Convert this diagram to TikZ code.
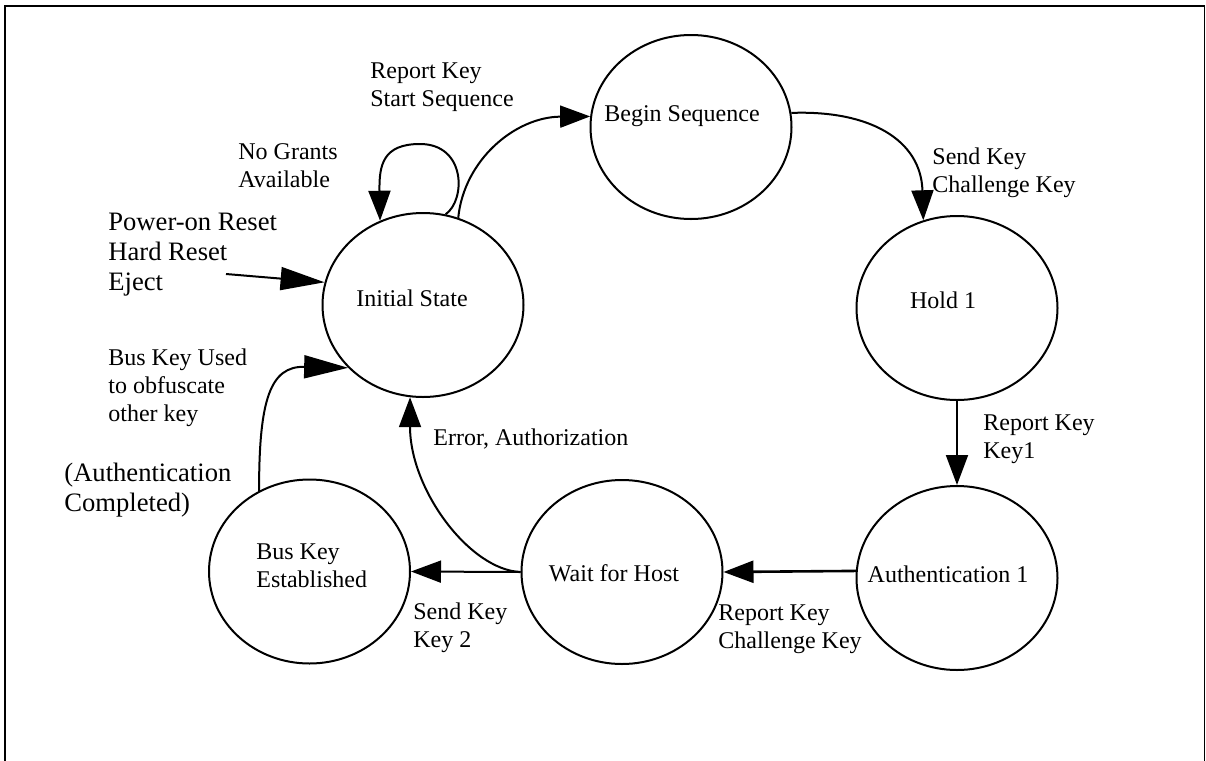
\documentclass[tikz,border=0pt]{standalone}
\usepackage{fontspec}
\setmainfont{Liberation Serif}
\usetikzlibrary{shapes.geometric,arrows.meta}
\tikzset{
  state/.style={ellipse, draw, line width=1pt, inner sep=0pt, minimum width=100.5pt, minimum height=92pt},
  lbl/.style={anchor=base west, align=left, inner sep=0pt, font=\fontsize{12}{14}\selectfont},
  biglbl/.style={anchor=base west, align=left, inner sep=0pt, font=\fontsize{13.3}{15}\selectfont},
  stxt/.style={inner sep=0pt, font=\fontsize{12}{14}\selectfont},
  arr/.style={-{Triangle[length=15pt,width=11pt]}, line width=1pt},
  arrbig/.style={-{Triangle[length=22pt,width=11.5pt]}, line width=1pt},
  frame/.style={line width=0.85pt}
}
\begin{document}
\begin{tikzpicture}[x=0.5pt,y=-0.5pt]
\useasboundingbox (0,0) rectangle (1206,761);
\draw[frame] (5,761) -- (5,6) -- (1204.5,6) -- (1204.5,761);

% states
\node[state] (init)  at (423,305) {};
\node[state] (begin) at (691,127) {};
\node[state] (hold)  at (957,308) {};
\node[state] (auth)  at (957,578) {};
\node[state] (wait)  at (622,572) {};
\node[state] (bus)   at (309.5,571.5) {};

\node[stxt] (initT)  at (412,298) {Initial State};
\node[stxt] (beginT) at (682,116) {Begin Sequence};
\node[stxt] (holdT)  at (943,300) {Hold 1};
\node[stxt] (authT)  at (948,574) {Authentication 1};
\node[stxt] (waitT)  at (614,573) {Wait for Host};
\node[lbl]  (busT)   at (256,587) {Bus Key\\Established};

% labels (anchor = baseline of last line)
\node[lbl] (l1) at (370,106) {Report Key\\Start Sequence};
\node[lbl] (l2) at (238,187) {No Grants\\Available};
\node[biglbl] (l3) at (108,290) {Power-on Reset\\Hard Reset\\Eject};
\node[lbl] (l4) at (932,192) {Send Key\\Challenge Key};
\node[lbl] (l5) at (983,458) {Report Key\\Key1};
\node[lbl] (l6) at (108,421) {Bus Key Used\\to obfuscate\\other key};
\node[biglbl] (l7) at (64,511) {(Authentication\\Completed)};
\node[lbl] (l8) at (433,445) {Error, Authorization};
\node[lbl] (l9) at (413,647) {Send Key\\Key 2};
\node[lbl] (l10) at (718,648) {Report Key\\Challenge Key};

% connectors
\coordinate (pw) at (226,274);
\draw[arrbig] (pw) -- (init.167);
\draw[arr] (init.68.5) .. controls (464,160) and (515,117) .. (begin.174);
\draw[arr] (init.76) .. controls (466,200) and (466,144) .. (420,144) .. controls (383,144) and (379,165) .. (init.117.4);
\draw[arr] (begin.8) .. controls (870,110) and (921,140) .. (hold.111.6);
\draw[arr] (hold.south) -- (auth.north);
\draw[arr, line width=1.3pt] (auth.176) -- (wait.east);
\draw[arr] (wait.west) -- (bus.east);
\draw[arr] (wait.west) .. controls (470,570) and (410,490) .. (init.262);
\draw[arrbig] (bus.122.4) .. controls (259,400) and (270,366) .. (init.220);
\end{tikzpicture}
\end{document}
